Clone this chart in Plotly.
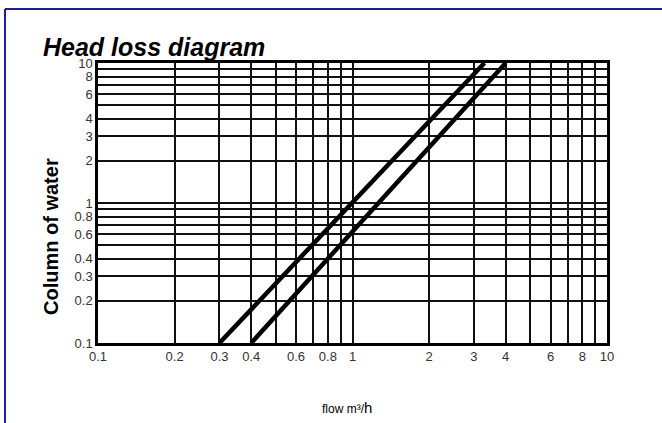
import plotly.graph_objects as go

# ---- data ----
flow_a = [0.3, 3.3]
head_a = [0.1, 10]
flow_b = [0.4, 4.0]
head_b = [0.1, 10]

grid_vals = [0.1, 0.2, 0.3, 0.4, 0.5, 0.6, 0.7, 0.8, 0.9,
             1, 2, 3, 4, 5, 6, 7, 8, 9, 10]
x_labels = {0.1: "0.1", 0.2: "0.2", 0.3: "0.3", 0.4: "0.4", 0.6: "0.6", 0.8: "0.8",
            1: "1", 2: "2", 3: "3", 4: "4", 6: "6", 8: "8", 10: "10"}
y_labels = {0.1: "0.1", 0.2: "0.2", 0.3: "0.3", 0.4: "0.4", 0.6: "0.6", 0.8: "0.8",
            1: "1", 2: "2", 3: "3", 4: "4", 6: "6", 8: "8", 10: "10"}

title_text = "Head loss diagram"
y_title = "Column of water"
x_title = "flow m³/<span style='font-size:15px'>h</span>"

W, H = 662, 423
L, R, T, B = 98, 607, 63, 343
pw, ph = R - L, B - T


def px(xp):
    return (xp - L) / pw


def py(yp):
    return (B - yp) / ph


FONT = "Arial, Liberation Sans, sans-serif"

fig = go.Figure()
for fx, hy in [(flow_a, head_a), (flow_b, head_b)]:
    fig.add_trace(go.Scatter(x=fx, y=hy, mode="lines",
                             line=dict(color="black", width=4.5),
                             showlegend=False, hoverinfo="skip"))

axis_common = dict(
    type="log", range=[-1, 1], tickmode="array", tickvals=grid_vals,
    showgrid=True, gridcolor="#111111", gridwidth=1.5,
    showline=True, linecolor="black", linewidth=2.5, mirror=True,
    ticks="", tickfont=dict(family=FONT, size=13, color="#333"),
    zeroline=False,
)

fig.update_xaxes(**axis_common,
                 ticktext=[x_labels.get(v, "") for v in grid_vals])
fig.update_yaxes(**axis_common,
                 ticktext=[y_labels.get(v, "") for v in grid_vals])

fig.update_layout(
    width=W, height=H,
    margin=dict(l=L, r=W - R, t=T, b=H - B),
    paper_bgcolor="white", plot_bgcolor="white",
    font=dict(family=FONT),
    annotations=[
        dict(text=f"<b><i>{title_text}</i></b>", xref="paper", yref="paper",
             x=px(41), y=py(47), xanchor="left", yanchor="middle",
             showarrow=False, font=dict(size=25, color="black", family=FONT)),
        dict(text=f"<b>{y_title}</b>", xref="paper", yref="paper",
             x=px(51), y=py(237), xanchor="center", yanchor="middle",
             textangle=-90, showarrow=False,
             font=dict(size=20, color="black", family=FONT)),
        dict(text=x_title, xref="paper", yref="paper",
             x=px(347), y=py(407), xanchor="center", yanchor="middle",
             showarrow=False, font=dict(size=12, color="black", family=FONT)),
    ],
    shapes=[
        dict(type="line", xref="paper", yref="paper",
             x0=px(5), x1=px(W + 5), y0=py(9), y1=py(9),
             line=dict(color="#1f1f8f", width=2)),
        dict(type="line", xref="paper", yref="paper",
             x0=px(5), x1=px(5), y0=py(9), y1=py(H + 5),
             line=dict(color="#1f1f8f", width=2)),
    ],
)

fig.write_html("out.html",
               config={"displayModeBar": False},
               post_script="document.body.style.margin='0';"
                           "document.body.style.overflow='hidden';")
